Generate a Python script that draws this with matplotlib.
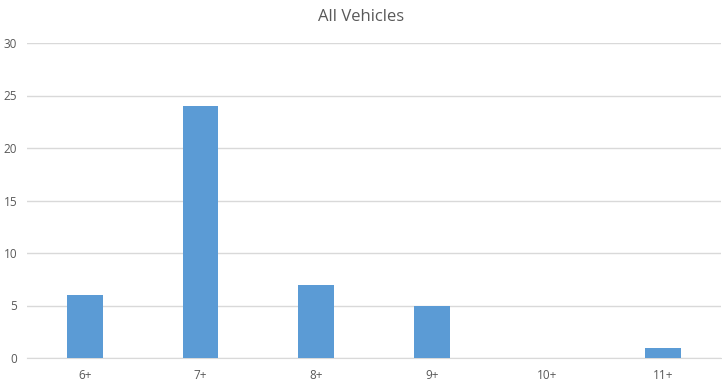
import matplotlib.pyplot as plt

categories = ["6+", "7+", "8+", "9+", "10+", "11+"]
counts = [6, 24, 7, 5, 0, 1]
y_ticks = [0, 5, 10, 15, 20, 25, 30]

plt.rcParams['font.family'] = ['Open Sans', 'DejaVu Sans']

fig = plt.figure(figsize=(7.22, 3.87), dpi=100)
ax = fig.add_axes([27 / 722, 29 / 387, 694 / 722, 315 / 387])

x = range(len(categories))
ax.bar(x, counts, width=0.31, color="#5B9BD5", zorder=3)

ax.set_xlim(-0.5, len(categories) - 0.5)
ax.set_ylim(0, 30)
ax.set_yticks(y_ticks)
ax.set_xticks(list(x))
ax.set_xticklabels(categories)

ax.grid(axis="y", color="#D9D9D9", linewidth=1, zorder=0)
for side in ["top", "right", "left"]:
    ax.spines[side].set_visible(False)
ax.spines["bottom"].set_color("#D9D9D9")
ax.tick_params(axis="both", length=0, labelsize=8.5, labelcolor="#595959")
ax.tick_params(axis="x", pad=8)
ax.tick_params(axis="y", pad=7)

fig.text(0.5, 1 - 17 / 387, "All Vehicles", ha="center", va="center",
         fontsize=12, color="#595959")

plt.savefig("out.png", dpi=100)
